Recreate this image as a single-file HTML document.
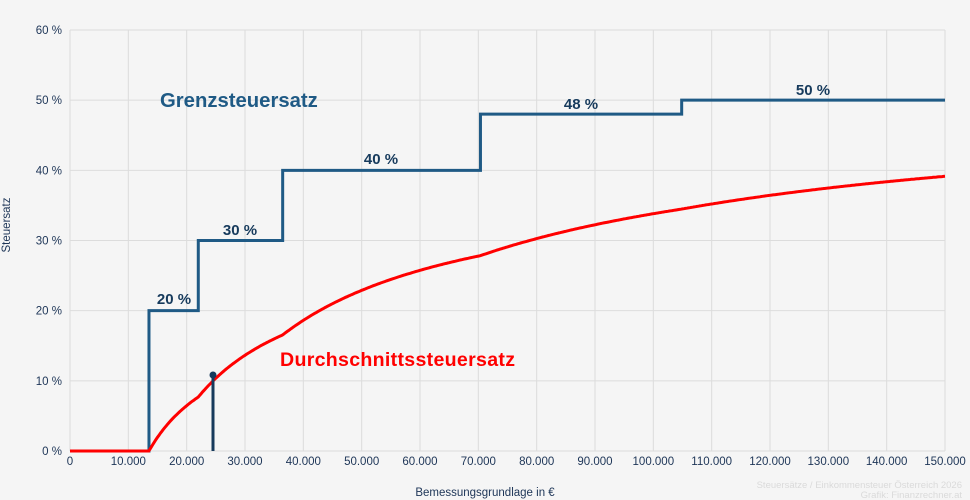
<!DOCTYPE html>
<html><head><meta charset="utf-8"><style>
html,body{margin:0;padding:0;background:#f5f5f5;}
svg{display:block;font-family:"Liberation Sans",sans-serif;}
</style></head><body>
<svg id="s" width="970" height="500" viewBox="0 0 970 500">
<rect width="970" height="500" fill="#f5f5f5"/>
<g id="grid" stroke="#dcdcdc" stroke-width="1"></g>
<g id="ticks" font-size="11.5" fill="#1d3557"></g>
<text x="10" y="225" font-size="11.5" fill="#1d3557" transform="rotate(-90 10 225)" text-anchor="middle">Steuersatz</text>
<text x="485" y="496" font-size="11.5" fill="#1d3557" text-anchor="middle">Bemessungsgrundlage in €</text>
<text x="962" y="488" font-size="9.5" fill="#dadada" text-anchor="end">Steuersätze / Einkommensteuer Österreich 2026</text>
<text x="962" y="498" font-size="9.5" fill="#dadada" text-anchor="end">Grafik: Finanzrechner.at</text>
<path id="step" fill="none" stroke="#1f5a85" stroke-width="3"/>
<path id="avg" fill="none" stroke="#ff0000" stroke-width="3"/>
<line x1="213" y1="451" x2="213" y2="375" stroke="#163a5c" stroke-width="3"/>
<circle cx="213" cy="375" r="3.5" fill="#163a5c"/>
<g font-weight="bold" font-size="15" fill="#163a5c" text-anchor="middle">
<text x="174" y="304">20 %</text>
<text x="240" y="235">30 %</text>
<text x="381" y="164">40 %</text>
<text x="581" y="109">48 %</text>
<text x="813" y="95">50 %</text>
</g>
<text x="160" y="107" font-weight="bold" font-size="20.3" fill="#1f5a85">Grenzsteuersatz</text>
<text x="280" y="366" font-weight="bold" font-size="19.6" fill="#ff0000" textLength="235">Durchschnittssteuersatz</text>
</svg>
<script>
const X=v=>70+v/150000*875, Y=p=>451-p*7.017;
const ns="http://www.w3.org/2000/svg";
const g=document.getElementById('grid'),t=document.getElementById('ticks');
function el(p,tag,a,txt){const e=document.createElementNS(ns,tag);for(const k in a)e.setAttribute(k,a[k]);if(txt)e.textContent=txt;p.appendChild(e);}
for(let i=0;i<=15;i++){const x=X(i*10000);el(g,'line',{x1:x,x2:x,y1:30,y2:451});
el(t,'text',{x:x,y:465,'text-anchor':'middle'},i==0?'0':(i*10000).toLocaleString('de-DE'));}
for(let j=0;j<=6;j++){const y=Y(j*10);el(g,'line',{x1:70,x2:945,y1:y,y2:y});
el(t,'text',{x:62,y:y+4,'text-anchor':'end'},j*10+' %');}
const b=[[0,0],[13539,20],[21992,30],[36458,40],[70365,48],[104859,50],[150000,50]];
let d='M'+X(0)+','+Y(0);
for(let i=1;i<b.length;i++){d+=' L'+X(b[i][0])+','+Y(b[i-1][1])+' L'+X(b[i][0])+','+Y(b[i][1]);}
document.getElementById('step').setAttribute('d',d);
function tax(v){let s=0;for(let i=0;i<b.length-1;i++){const lo=b[i][0],hi=b[i+1][0];if(v>lo)s+=(Math.min(v,hi)-lo)*b[i][1]/100;}return s;}
let a='';for(let v=0;v<=150000;v+=250){const p=v?tax(v)/v*100:0;a+=(v?' L':'M')+X(v).toFixed(1)+','+Y(p).toFixed(1);}
document.getElementById('avg').setAttribute('d',a);
</script>
</body></html>
